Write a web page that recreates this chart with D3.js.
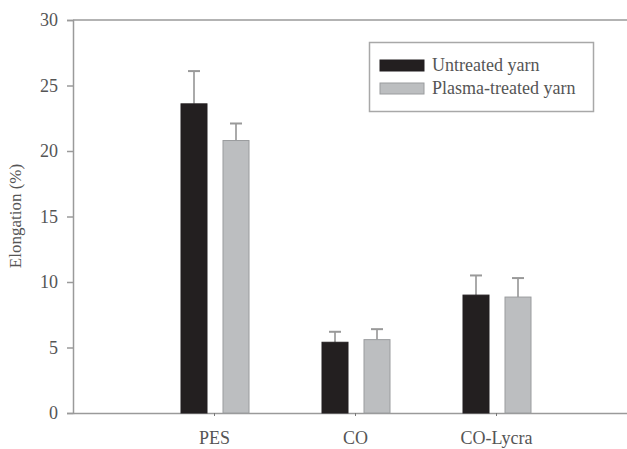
<!DOCTYPE html>
<html>
<head>
<meta charset="utf-8">
<script src="https://cdn.jsdelivr.net/npm/d3@7"></script>
<style>
  body { margin: 0; background: #fff; }
  text { font-family: "Liberation Serif", "Times New Roman", serif; fill: #555; }
</style>
</head>
<body>
<svg width="627" height="449"></svg>
<script>
const categories = ["PES", "CO", "CO-Lycra"];
const seriesNames = ["Untreated yarn", "Plasma-treated yarn"];
const untreated = [23.6, 5.4, 9.0];
const untreatedErr = [2.5, 0.8, 1.5];
const plasma = [20.8, 5.6, 8.85];
const plasmaErr = [1.3, 0.8, 1.45];
const yTicks = [0, 5, 10, 15, 20, 25, 30];

const colors = ["#231f20", "#bcbec0"];
const strokes = ["#231f20", "#9a9c9e"];

const svg = d3.select("svg");

const plotLeft = 73, plotTop = 20, plotBottom = 413;
const barW = 26;

// category slots at 1..3, plot runs past the right edge
const x = d3.scaleLinear().domain([0, 4]).range([plotLeft, 637]);
const y = d3.scaleLinear().domain([0, 30]).range([plotBottom, plotTop]);

const series = [
  { name: seriesNames[0], vals: untreated, errs: untreatedErr, off: -20 },
  { name: seriesNames[1], vals: plasma, errs: plasmaErr, off: 22 }
];

// frame: top line
svg.append("line")
  .attr("x1", plotLeft).attr("x2", 627).attr("y1", plotTop).attr("y2", plotTop)
  .attr("stroke", "#9a9a9a").attr("stroke-width", 1.5);

// y axis
const yAxis = d3.axisLeft(y).tickValues(yTicks).tickSize(6).tickPadding(9);
const gy = svg.append("g")
  .attr("transform", `translate(${plotLeft},0)`)
  .call(yAxis);
gy.select(".domain").attr("stroke", "#9a9a9a").attr("stroke-width", 1.5);
gy.selectAll(".tick line").attr("stroke", "#9a9a9a").attr("stroke-width", 1.5);
gy.selectAll("text")
  .attr("font-size", 18)
  .style("font-family", "Liberation Serif")
  .attr("fill", "#666");

// x axis
const xAxis = d3.axisBottom(x)
  .tickValues([1, 2, 3])
  .tickFormat((d) => categories[d - 1])
  .tickSize(3)
  .tickSizeOuter(0)
  .tickPadding(15);
const gx = svg.append("g")
  .attr("transform", `translate(0,${plotBottom})`)
  .call(xAxis);
gx.select(".domain").attr("stroke", "#9a9a9a").attr("stroke-width", 1.5);
gx.selectAll(".tick line").attr("stroke", "#777").attr("stroke-width", 1);
gx.selectAll("text")
  .attr("font-size", 18)
  .style("font-family", "Liberation Serif")
  .attr("fill", "#666");

// y title
svg.append("text")
  .attr("transform", "translate(21,216) rotate(-90)")
  .attr("text-anchor", "middle")
  .attr("font-size", 17)
  .attr("fill", "#777")
  .text("Elongation (%)");

// bars + error bars
series.forEach((s, si) => {
  const g = svg.append("g");
  g.selectAll("line.err")
    .data(s.vals)
    .enter()
    .append("line")
    .attr("class", "err")
    .attr("x1", (d, i) => x(i + 1) + s.off)
    .attr("x2", (d, i) => x(i + 1) + s.off)
    .attr("y1", (d) => y(d))
    .attr("y2", (d, i) => y(d + s.errs[i]))
    .attr("stroke", "#aaa")
    .attr("stroke-width", 2);
  g.selectAll("line.cap")
    .data(s.vals)
    .enter()
    .append("line")
    .attr("class", "cap")
    .attr("x1", (d, i) => x(i + 1) + s.off - 6)
    .attr("x2", (d, i) => x(i + 1) + s.off + 6)
    .attr("y1", (d, i) => y(d + s.errs[i]))
    .attr("y2", (d, i) => y(d + s.errs[i]))
    .attr("stroke", "#999")
    .attr("stroke-width", 2);
  g.selectAll("rect")
    .data(s.vals)
    .enter()
    .append("rect")
    .attr("x", (d, i) => x(i + 1) + s.off - barW / 2)
    .attr("y", (d) => y(d))
    .attr("width", barW)
    .attr("height", (d) => plotBottom - y(d))
    .attr("fill", colors[si])
    .attr("stroke", strokes[si])
    .attr("stroke-width", 1);
});

// legend
const legend = svg.append("g");
legend.append("rect")
  .attr("x", 369.5).attr("y", 42.5)
  .attr("width", 224).attr("height", 69)
  .attr("fill", "#fff").attr("stroke", "#a8a8a8").attr("stroke-width", 1.5);
series.forEach((s, si) => {
  legend.append("rect")
    .attr("x", 380).attr("y", 60 + si * 23)
    .attr("width", 44).attr("height", 11)
    .attr("fill", colors[si]).attr("stroke", strokes[si]);
  legend.append("text")
    .attr("x", 432).attr("y", 71 + si * 23)
    .attr("font-size", 18)
    .attr("fill", "#666")
    .text(s.name);
});
</script>
</body>
</html>
